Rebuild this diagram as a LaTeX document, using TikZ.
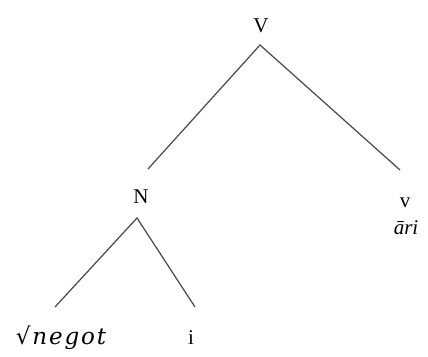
\documentclass[tikz,border=0pt]{standalone}
\usepackage{fontspec}
\setmainfont{Liberation Serif}
\newfontfamily\rootfont{DejaVu Serif}[LetterSpace=8]
\begin{document}
\begin{tikzpicture}[x=1pt,y=-1pt,
  lbl/.style={anchor=base,inner sep=0pt,font=\fontsize{21}{24}\selectfont},
  edge/.style={draw=black!72,line width=1.2pt}]
\useasboundingbox[fill=white] (0,0) rectangle (428,356);
\node[lbl] (V) at (261,32) {V};
\node[lbl] (N) at (141,203) {N};
\node[lbl] (v) at (405,207) {v};
\node[lbl,font=\fontsize{21}{24}\selectfont\itshape] (ari) at (406,234) {āri};
\node[lbl,font=\fontsize{23}{24}\rootfont\itshape] (root) at (61,344) {√negot};
\node[lbl] (i) at (191,344) {i};
\coordinate (Vb) at (260,45);
\coordinate (Nt) at (148,169);
\coordinate (vt) at (400,170);
\coordinate (Nb) at (137,218);
\coordinate (rt) at (55,307);
\coordinate (it) at (195,307);
\draw[edge] (Nt) -- (Vb) -- (vt);
\draw[edge] (rt) -- (Nb) -- (it);
\end{tikzpicture}
\end{document}
